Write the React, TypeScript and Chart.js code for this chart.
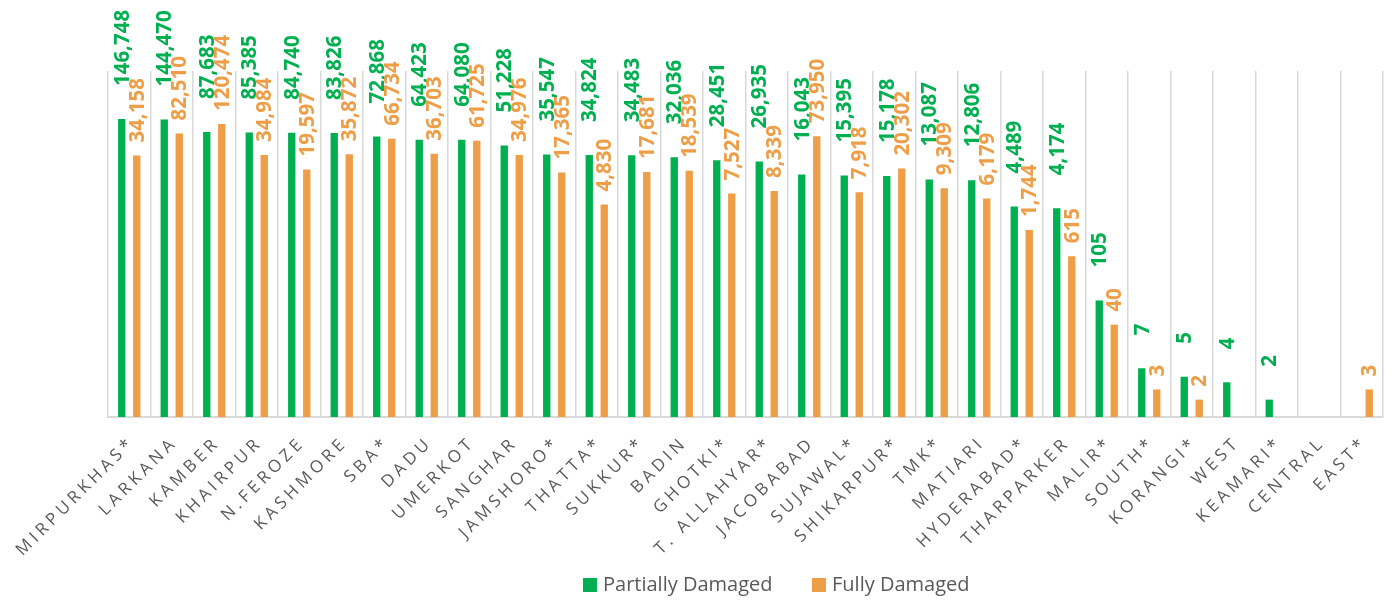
import React, { useEffect, useRef } from "react";
import { Chart, registerables } from "chart.js";

Chart.register(...registerables);

const categories = [
  "MIRPURKHAS*", "LARKANA", "KAMBER", "KHAIRPUR", "N.FEROZE", "KASHMORE", "SBA*", "DADU",
  "UMERKOT", "SANGHAR", "JAMSHORO*", "THATTA*", "SUKKUR*", "BADIN", "GHOTKI*", "T. ALLAHYAR*",
  "JACOBABAD", "SUJAWAL*", "SHIKARPUR*", "TMK*", "MATIARI", "HYDERABAD*", "THARPARKER", "MALIR*",
  "SOUTH*", "KORANGI*", "WEST", "KEAMARI*", "CENTRAL", "EAST*",
];

const partiallyDamaged: (number | null)[] = [
  146748, 144470, 87683, 85385, 84740, 83826, 72868, 64423,
  64080, 51228, 35547, 34824, 34483, 32036, 28451, 26935,
  16043, 15395, 15178, 13087, 12806, 4489, 4174, 105,
  7, 5, 4, 2, null, null,
];

const fullyDamaged: (number | null)[] = [
  34158, 82510, 120474, 34984, 19597, 35872, 66734, 36703,
  61725, 34976, 17365, 4830, 17681, 18539, 7527, 8339,
  73950, 7918, 20302, 9309, 6179, 1744, 615, 40,
  3, 2, null, null, null, 3,
];

const seriesNames = ["Partially Damaged", "Fully Damaged"];
const seriesColors = ["#00B050", "#EE9E47"];
const labelOffsets = [33, 13];

export default function App() {
  const ref = useRef<HTMLCanvasElement>(null);

  useEffect(() => {
    document.body.style.margin = "0";
    const canvas = ref.current;
    if (!canvas) return;

    const fmt = (v: number) => v.toLocaleString("en-US");

    const drawPlugin = {
      id: "customDraw",
      afterDatasetsDraw(chart: any) {
        const ctx = chart.ctx as CanvasRenderingContext2D;
        chart.data.datasets.forEach((ds: any, di: number) => {
          const meta = chart.getDatasetMeta(di);
          meta.data.forEach((el: any, i: number) => {
            const v = ds.data[i];
            if (v == null) return;
            ctx.save();
            ctx.translate(el.x + 1, el.y - labelOffsets[di]);
            ctx.rotate(-Math.PI / 2);
            ctx.font = "bold 20.5px 'Open Sans'";
            ctx.fillStyle = seriesColors[di];
            ctx.textAlign = "left";
            ctx.textBaseline = "middle";
            ctx.fillText(fmt(v), 0, 0);
            ctx.restore();
          });
        });
      },
      afterDraw(chart: any) {
        const ctx = chart.ctx as CanvasRenderingContext2D;
        const xs = chart.scales.x;
        ctx.save();
        ctx.font = "17px 'Open Sans'";
        ctx.fillStyle = "#595959";
        (ctx as any).letterSpacing = "4px";
        categories.forEach((c, i) => {
          const x = xs.getPixelForValue(i);
          ctx.save();
          ctx.translate(x + 3, 440);
          ctx.rotate(-Math.PI / 4);
          ctx.textAlign = "right";
          ctx.textBaseline = "middle";
          ctx.fillText(c, 0, 0);
          ctx.restore();
        });
        ctx.restore();

        // legend
        ctx.save();
        ctx.font = "20px 'Open Sans'";
        ctx.textBaseline = "middle";
        ctx.textAlign = "left";
        const legendItems = [
          { box: 583, text: 603 },
          { box: 812, text: 832 },
        ];
        legendItems.forEach((it, i) => {
          ctx.fillStyle = seriesColors[i];
          ctx.fillRect(it.box, 578, 14, 14);
          ctx.fillStyle = "#595959";
          ctx.fillText(seriesNames[i], it.text, 585);
        });
        ctx.restore();
      },
    };

    const chart = new Chart(canvas, {
      type: "bar",
      data: {
        labels: categories,
        datasets: [
          {
            label: seriesNames[0],
            data: partiallyDamaged,
            backgroundColor: seriesColors[0],
            barPercentage: 0.49,
            categoryPercentage: 0.706,
          },
          {
            label: seriesNames[1],
            data: fullyDamaged,
            backgroundColor: seriesColors[1],
            barPercentage: 0.49,
            categoryPercentage: 0.706,
          },
        ],
      },
      options: {
        responsive: false,
        animation: false,
        layout: { padding: { top: 71, bottom: 184, left: 108, right: 9 } },
        plugins: {
          legend: { display: false },
          tooltip: { enabled: false },
        },
        scales: {
          x: {
            grid: { display: true, color: "#D9D9D9", lineWidth: 1.5, offset: true, drawTicks: false },
            border: { display: true, color: "#D9D9D9", width: 2 },
            ticks: { display: false },
          },
          y: {
            type: "logarithmic",
            min: 1,
            max: 1000000,
            display: false,
          },
        },
      },
      plugins: [drawPlugin],
    });

    return () => chart.destroy();
  }, []);

  return (
    <div style={{ width: 1392, height: 601 }}>
      <canvas ref={ref} width={1392} height={601} />
    </div>
  );
}
